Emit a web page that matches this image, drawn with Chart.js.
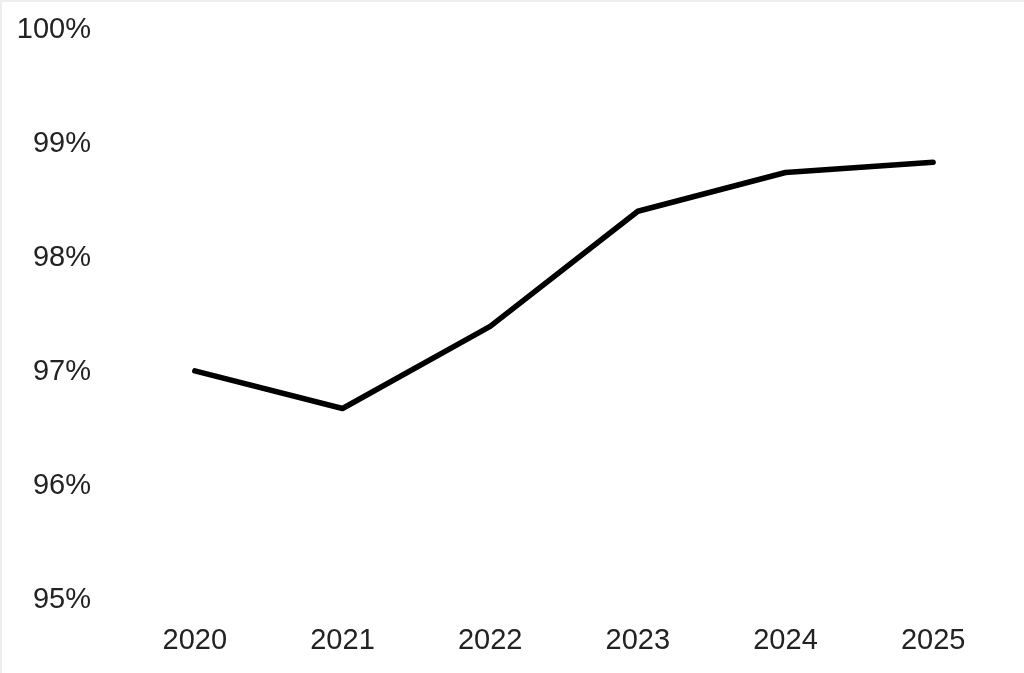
<!DOCTYPE html>
<html>
<head>
<meta charset="utf-8">
<script src="https://cdn.jsdelivr.net/npm/chart.js@4"></script>
<style>
  html, body { margin: 0; padding: 0; background: #fff; }
  #wrap { width: 1024px; height: 673px; position: relative; }
</style>
</head>
<body>
<div id="wrap"><canvas id="chart"></canvas></div>
<script>
// Data
const years = ['2020', '2021', '2022', '2023', '2024', '2025'];
const shareValues = [97.01, 96.68, 97.40, 98.41, 98.75, 98.84];
const yTicks = [95, 96, 97, 98, 99, 100];

// Faint frame along top and left edges, as in the reference
const edgeFrame = {
    id: 'edgeFrame',
    beforeDraw(chart) {
        const c = chart.ctx;
        c.save();
        c.fillStyle = '#fff';
        c.fillRect(0, 0, chart.width, chart.height);
        c.fillStyle = '#eeeeee';
        c.fillRect(0, 0, chart.width, 2);
        c.fillRect(0, 0, 2, chart.height);
        c.restore();
    }
};

const ctx = document.getElementById('chart').getContext('2d');
const chart = new Chart(ctx, {
    type: 'line',
    data: {
        labels: years,
        datasets: [{
            data: shareValues,
            borderColor: '#000',
            borderWidth: 5.5,
            borderCapStyle: 'round',
            borderJoinStyle: 'round',
            pointRadius: 0,
            tension: 0,
            fill: false
        }]
    },
    options: {
        responsive: true,
        maintainAspectRatio: false,
        animation: false,
        layout: { padding: { top: 30, right: 17, left: 0, bottom: 0 } },
        plugins: { legend: { display: false }, tooltip: { enabled: false } },
        scales: {
            x: {
                offset: true,
                grid: { display: false, drawTicks: false },
                border: { display: false },
                ticks: {
                    color: '#222',
                    font: { family: 'Liberation Sans', size: 29 },
                    padding: 24,
                    maxRotation: 0
                },
                afterFit(scale) {
                    scale.height = 73;
                    scale.paddingLeft = 0;
                    scale.paddingRight = 0;
                }
            },
            y: {
                min: 95,
                max: 100,
                grid: { display: false, drawTicks: false },
                border: { display: false },
                afterBuildTicks(scale) { scale.ticks = yTicks.map(v => ({ value: v })); },
                ticks: {
                    color: '#222',
                    font: { family: 'Liberation Sans', size: 29 },
                    padding: 30,
                    callback: v => v + '%'
                },
                afterFit(scale) {
                    scale.width = 121;
                    scale.paddingTop = 0;
                    scale.paddingBottom = 0;
                }
            }
        }
    },
    plugins: [edgeFrame]
});
</script>
</body>
</html>
